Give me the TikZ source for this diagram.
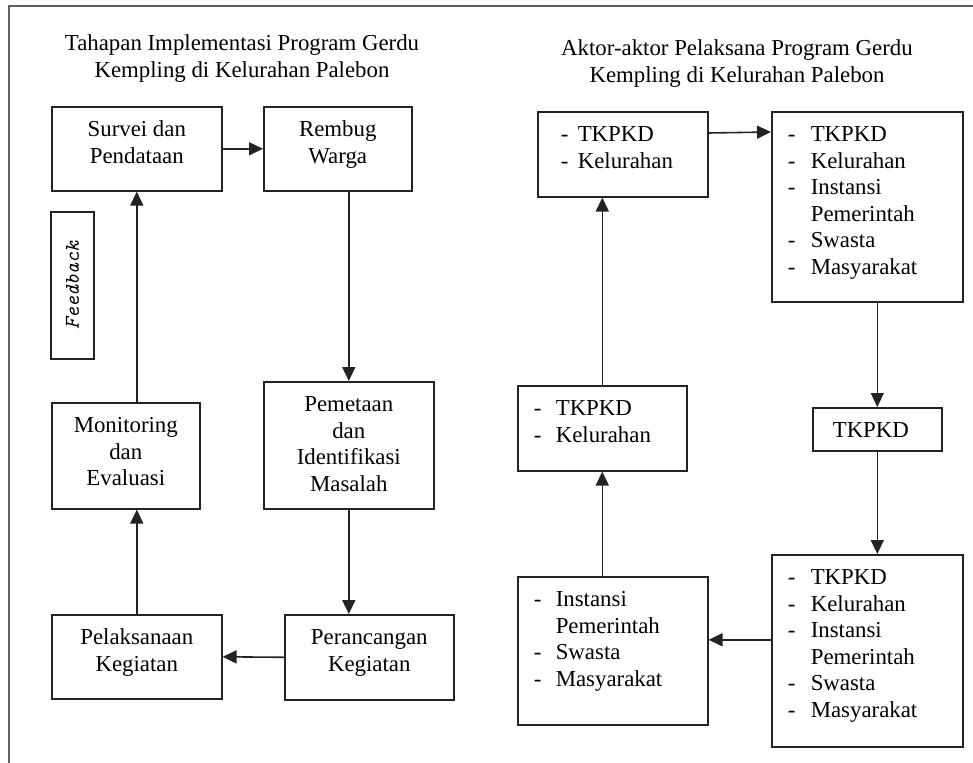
\documentclass[tikz,border=0pt]{standalone}
\usepackage{fontspec}
\setmainfont{Liberation Serif}
\usetikzlibrary{arrows.meta}
\definecolor{framegray}{RGB}{95,95,95}
\definecolor{linegray}{RGB}{35,35,35}
\newlength{\px}
\setlength{\px}{0.02cm}
\newcommand{\stagetxt}[3]{\parbox[c][#2\px][t]{#1\px}{\centering\rule{0pt}{30\px}#3}}
\newcommand{\actortxt}[3]{\parbox[c][#2\px][t]{#1\px}{\raggedright\rule{0pt}{30\px}#3}}
\newcommand{\aktor}[3]{\hspace*{#1\px}\makebox[#2\px][l]{-}#3}

\begin{document}
\begin{tikzpicture}[
  x=0.02cm, y=-0.02cm,
  box/.style={draw=linegray, line width=0.9pt, inner sep=0pt, anchor=north west,
              font=\fontsize{13pt}{15.1pt}\selectfont},
  judul/.style={inner sep=0pt, anchor=north, align=center,
                font=\fontsize{13pt}{15.3pt}\selectfont},
  arr/.style={-{Triangle[length=0.28cm, width=0.26cm]}, line width=0.9pt, draw=linegray}
]
\useasboundingbox (0,0) rectangle (973,763);
\draw[framegray, line width=0.7pt] (9,763) -- (9,6) -- (973,6);

% Tahapan implementasi
\node[judul] (judulkiri) at (242,34.5) {Tahapan Implementasi Program Gerdu\\Kempling di Kelurahan Palebon};
\node[box] (survei) at (51,106) {\stagetxt{170}{84}{Survei dan\\Pendataan}};
\node[box] (rembug) at (263,106) {\stagetxt{148}{84}{Rembug\\Warga}};
\node[box, anchor=center, rotate=90, minimum width=2.94cm, minimum height=0.86cm,
      line width=0.7pt, font=\fontsize{12pt}{14pt}\ttfamily\itshape] (feedback) at (72.5,285.5) {Feedback};
\node[box] (monev) at (51,402) {\stagetxt{148}{106}{Monitoring\\dan\\Evaluasi}};
\node[box] (pemetaan) at (263,381) {\stagetxt{170}{127}{Pemetaan\\dan\\Identifikasi\\Masalah}};
\node[box] (pelaksanaan) at (51,614) {\stagetxt{170}{84}{Pelaksanaan\\Kegiatan}};
\node[box] (perancangan) at (284,614) {\stagetxt{169}{85}{Perancangan\\Kegiatan}};

\draw[arr] (survei) -- (rembug);
\draw[arr] (pemetaan.north |- rembug.south) -- (pemetaan.north);
\draw[arr] (pemetaan.south) -- (pemetaan.south |- perancangan.north);
\draw[arr] (perancangan.west) -- (pelaksanaan.east);
\draw[arr] (pelaksanaan.north) -- (pelaksanaan.north |- monev.south);
\draw[arr] (survei.south |- monev.north) -- (survei.south);

% Aktor-aktor pelaksana
\node[judul] (judulkanan) at (737,39.5) {Aktor-aktor Pelaksana Program Gerdu\\Kempling di Kelurahan Palebon};
\node[box] (aktorA) at (537,111) {\actortxt{170}{85}{\aktor{23}{17}{TKPKD}\\\aktor{23}{17}{Kelurahan}}};
\node[box] (aktorB) at (771,111) {\actortxt{191}{190}{\aktor{16}{23}{TKPKD}\\\aktor{16}{23}{Kelurahan}\\
  \aktor{16}{23}{Instansi}\\\hspace*{39\px}Pemerintah\\\aktor{16}{23}{Swasta}\\\aktor{16}{23}{Masyarakat}}};
\node[box] (aktorD) at (812,407) {\actortxt{129}{43}{\hspace*{20\px}TKPKD}};
\node[box] (aktorE) at (771,554) {\actortxt{191}{192}{\aktor{16}{23}{TKPKD}\\\aktor{16}{23}{Kelurahan}\\
  \aktor{16}{23}{Instansi}\\\hspace*{39\px}Pemerintah\\\aktor{16}{23}{Swasta}\\\aktor{16}{23}{Masyarakat}}};
\node[box] (aktorF) at (517,576) {\actortxt{190}{148}{\aktor{16}{22}{Instansi}\\\hspace*{38\px}Pemerintah\\
  \aktor{16}{22}{Swasta}\\\aktor{16}{22}{Masyarakat}}};
\node[box] (aktorC) at (517,385) {\actortxt{169}{85}{\aktor{16}{22}{TKPKD}\\\aktor{16}{22}{Kelurahan}}};

\draw[arr] ([yshift=-0.44cm]aktorA.north east) -- ([yshift=-0.42cm]aktorB.north west);
\draw[arr] (aktorD.north |- aktorB.south) -- (aktorD.north);
\draw[arr] (aktorD.south) -- (aktorD.south |- aktorE.north);
\draw[arr] ([yshift=0.22cm]aktorE.west) -- ([yshift=0.22cm]aktorF.east);
\draw[arr] (aktorC.south |- aktorF.north) -- (aktorC.south);
\draw[arr] (aktorC.north) -- (aktorC.north |- aktorA.south);

\end{tikzpicture}
\end{document}
